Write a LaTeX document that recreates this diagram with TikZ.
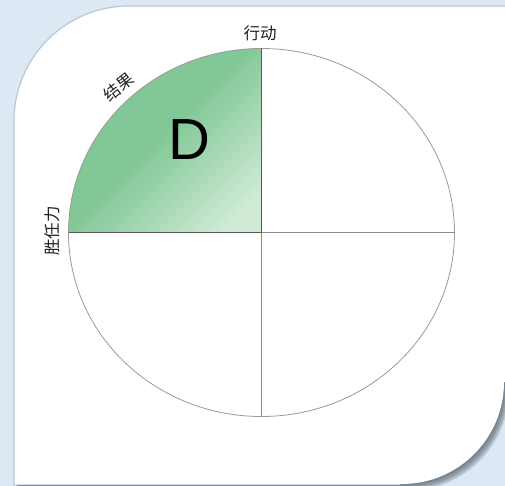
\documentclass[tikz,border=0pt]{standalone}
\usepackage{fontspec}
\setmainfont{Liberation Sans}
\newfontfamily\cjk{Noto Sans CJK SC}
\definecolor{pagebg}{HTML}{DCE9F5}
\definecolor{cardedge}{HTML}{BAC6D2}
\definecolor{cardshadow}{HTML}{4E5C68}
\definecolor{ringgray}{HTML}{9A9A9A}
\definecolor{quaddark}{HTML}{82C796}
\definecolor{quadlight}{HTML}{CFEBD6}
\definecolor{inkgray}{HTML}{222222}
\usetikzlibrary{calc}

\pgfdeclarehorizontalshading{quadfade}{100bp}{color(0bp)=(quaddark); color(48bp)=(quaddark); color(78bp)=(quadlight); color(100bp)=(quadlight)}

\tikzset{
  cardshape/.style={fill=white},
  ringline/.style={ringgray,line width=0.8pt},
  crossline/.style={ringgray!90!black,line width=0.8pt},
  quadedge/.style={black!65,line width=0.9pt},
  cjklabel/.style={inkgray,font=\cjk\fontsize{16.5}{18}\selectfont,inner sep=0pt},
}

\begin{document}
\begin{tikzpicture}[x=1pt,y=-1pt]
    \fill[pagebg] (0,0) rectangle (505,486);
    \useasboundingbox (0,0) rectangle (505,486);
    % card shadow
    \foreach \d in {1,...,7}
      \fill[cardshadow,opacity=0.16,shift={(\d*0.8,\d)}]
        (14,486) -- (14,121) arc (180:270:115) -- (504,6) -- (504,382) arc (0:90:102) -- (14,484) -- cycle;
    % card
    \fill[cardshape]
      (14,486) -- (14,121) arc (180:270:115) -- (506,6) -- (506,382) -- (504,382) arc (0:90:102) -- (14,484) -- cycle;
    \draw[cardedge,line width=1.2pt]
      (14,486) -- (14,121) arc (180:270:115) -- (506,6);
    \draw[cardedge!60,line width=0.8pt] (14,484.6) -- (400,484.6);
    % circle
    \coordinate (ctr) at (261.5,232.5);
    \shade[shading=quadfade,shading angle=-45]
      (ctr) -- ++(-193,0) arc [start angle=180,end angle=270,x radius=193,y radius=184] -- cycle;
    \draw[ringline] (ctr) ellipse [x radius=193,y radius=184];
    \draw[crossline] (ctr) -- +(193,0);
    \draw[crossline] (ctr) -- +(0,184);
    \draw[quadedge] (ctr) -- +(-193,0);
    \draw[quadedge] (ctr) -- +(0,-184);
    % labels
    \node[cjklabel] (act) at (260,33) {行动};
    \node[cjklabel,rotate=38] (res) at (119,87) {结果};
    \node[cjklabel,rotate=90] (comp) at (52,231) {胜任力};
    \node[font=\fontsize{58}{60}\selectfont,inner sep=0pt] (dlet) at (189,140) {D};
\end{tikzpicture}
\end{document}
